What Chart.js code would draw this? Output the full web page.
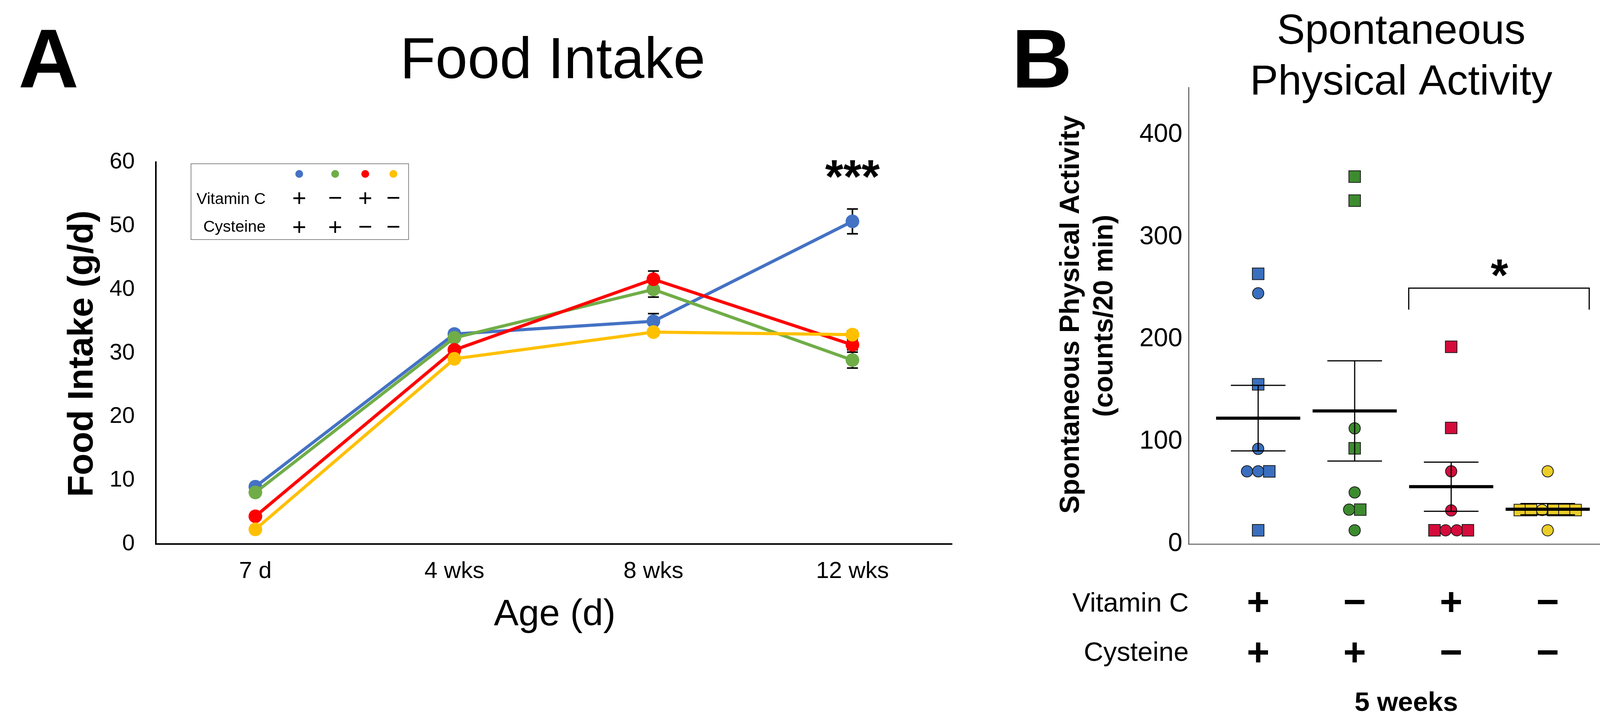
<!DOCTYPE html>
<html><head><meta charset="utf-8">
<script src="https://cdn.jsdelivr.net/npm/chart.js@4.4.1/dist/chart.umd.min.js"></script>
<style>
html,body{margin:0;padding:0;background:#fff;width:4163px;height:1850px;overflow:hidden}
#wrapA{position:absolute;left:0;top:0;width:2560px;height:1850px}
#wrapB{position:absolute;left:2560px;top:0;width:1603px;height:1850px}
canvas{display:block}
</style></head><body>
<div id="wrapA"><canvas id="a" width="2560" height="1850" style="width:2560px;height:1850px"></canvas></div>
<div id="wrapB"><canvas id="b" width="1603" height="1850" style="width:1603px;height:1850px"></canvas></div>
<script>
// ---------- Panel A data ----------
const ageLabels = ['7 d', '4 wks', '8 wks', '12 wks'];
const foodVcCys  = [9.0, 33.0, 35.0, 50.7];   // blue  Vit C + / Cys +
const foodCys    = [8.1, 32.4, 40.0, 28.9];   // green Vit C - / Cys +
const foodVc     = [4.35, 30.5, 41.6, 31.3];  // red   Vit C + / Cys -
const foodNone   = [2.3, 29.1, 33.3, 32.9];   // yellow Vit C - / Cys -
const errVcCys   = [0.5, 0.6, 1.2, 1.95];
const errCys     = [0.4, 0.5, 1.2, 1.25];
const errVc      = [0.4, 0.6, 1.3, 0.8];
const errNone    = [0.3, 0.5, 0.5, 0.6];
const vitCSigns  = ['+', '\u2212', '+', '\u2212'];
const cysSigns   = ['+', '+', '\u2212', '\u2212'];

// ---------- Panel B data ----------
const groupPos   = [1, 2, 3, 4];
const spaVcCys   = [264, 245, 156, 93, 71, 71, 71, 13.4];
const shpVcCys   = ['rect','circle','rect','circle','circle','circle','rect','rect'];
const spaCys     = [359, 335.5, 113, 93.5, 50.4, 33.6, 33.6, 13.4];
const shpCys     = ['rect','rect','circle','rect','circle','circle','rect','circle'];
const spaVc      = [192.7, 113.4, 71, 32.8, 13.4, 13.4, 13.4, 13.4];
const shpVc      = ['rect','rect','circle','circle','rect','circle','circle','rect'];
const spaNone    = [71, 33.2, 33.2, 33.2, 33.2, 33.2, 33.2, 13.4];
const shpNone    = ['circle','rect','rect','circle','rect','rect','rect','circle'];
const spaMean    = [123, 130, 56, 34];
const spaSem     = [32, 49, 24, 5.5];

const FF = "'Liberation Sans', Arial, Helvetica, sans-serif";
Chart.defaults.font.family = FF;
Chart.defaults.color = '#000';

const colA = ['#4472C4', '#70AD47', '#FF0000', '#FFC000'];
const colB = ['#3a6fbf', '#3d8b2f', '#d40c3c', '#ebcd28'];

// ---------- Panel A ----------
const foodSeries = [foodVcCys, foodCys, foodVc, foodNone];
const foodErr = [errVcCys, errCys, errVc, errNone];

const pluginA = {
  id: 'pa',
  beforeDatasetsDraw(chart) {
    const {ctx, scales: {x, y}} = chart;
    ctx.save();
    ctx.strokeStyle = '#000';
    ctx.lineWidth = 4;
    foodSeries.forEach((ser, si) => {
      ser.forEach((v, i) => {
        const e = foodErr[si][i];
        const px = x.getPixelForValue(i);
        const t = y.getPixelForValue(v + e), b = y.getPixelForValue(v - e);
        ctx.beginPath();
        ctx.moveTo(px, t); ctx.lineTo(px, b);
        ctx.moveTo(px - 14, t); ctx.lineTo(px + 14, t);
        ctx.moveTo(px - 14, b); ctx.lineTo(px + 14, b);
        ctx.stroke();
      });
    });
    ctx.restore();
  },
  afterDraw(chart) {
    const {ctx, scales: {x}} = chart;
    ctx.save();
    ctx.fillStyle = '#000';
    ctx.textBaseline = 'alphabetic';
    // Panel letter
    ctx.textAlign = 'left';
    ctx.font = `bold 214px ${FF}`;
    ctx.fillText('A', 47, 224);
    // Title
    ctx.textAlign = 'center';
    ctx.font = `148px ${FF}`;
    ctx.fillText('Food Intake', 1415, 200);
    // X title
    ctx.font = `95px ${FF}`;
    ctx.fillText('Age (d)', 1420, 1600);
    // Y title
    ctx.save();
    ctx.translate(237, 905);
    ctx.rotate(-Math.PI / 2);
    ctx.font = `bold 91px ${FF}`;
    ctx.fillText('Food Intake (g/d)', 0, 0);
    ctx.restore();
    // Significance
    ctx.font = `bold 120px ${FF}`;
    ctx.fillText('***', x.getPixelForValue(3), 493);
    // Legend table
    ctx.strokeStyle = '#8a8a8a';
    ctx.lineWidth = 2;
    ctx.strokeRect(489, 419, 557, 194);
    const cols = [766, 858, 935, 1007];
    cols.forEach((cx, i) => {
      ctx.fillStyle = colA[i];
      ctx.beginPath(); ctx.arc(cx, 445, 10, 0, Math.PI * 2); ctx.fill();
    });
    ctx.fillStyle = '#000';
    ctx.textAlign = 'right';
    ctx.font = `41px ${FF}`;
    ctx.fillText('Vitamin C', 680, 522);
    ctx.fillText('Cysteine', 680, 593);
    ctx.textAlign = 'center';
    ctx.font = `62px ${FF}`;
    cols.forEach((cx, i) => {
      ctx.fillText(vitCSigns[i], cx, 527);
      ctx.fillText(cysSigns[i], cx, 601);
    });
    ctx.restore();
  }
};

new Chart(document.getElementById('a'), {
  type: 'line',
  data: {
    labels: ageLabels,
    datasets: foodSeries.map((ser, i) => ({
      data: ser,
      borderColor: colA[i],
      backgroundColor: colA[i],
      pointBackgroundColor: colA[i],
      pointBorderWidth: 0,
      pointRadius: 17.5,
      borderWidth: 8,
      tension: 0,
      fill: false,
      order: 4 - i
    }))
  },
  options: {
    responsive: false,
    devicePixelRatio: 1,
    animation: false,
    events: [],
    layout: {padding: {top: 415, right: 123, bottom: 0, left: 0}},
    plugins: {legend: {display: false}, tooltip: {enabled: false}, title: {display: false}},
    scales: {
      x: {
        type: 'category',
        offset: true,
        grid: {display: false, drawTicks: false},
        border: {display: true, color: '#000', width: 4},
        ticks: {font: {size: 60}, color: '#000', padding: 34, maxRotation: 0},
        afterFit: s => { s.height = 458; }
      },
      y: {
        min: 0, max: 60,
        grid: {display: false, drawTicks: false},
        border: {display: true, color: '#000', width: 4},
        ticks: {stepSize: 10, font: {size: 58}, color: '#000', padding: 54},
        afterFit: s => { s.width = 399; }
      }
    }
  },
  plugins: [pluginA]
});

// ---------- Panel B ----------
const spaGroups = [spaVcCys, spaCys, spaVc, spaNone];
const spaShapes = [shpVcCys, shpCys, shpVc, shpNone];
const JIT = 0.1155;
function jitter(vals) {
  const off = new Array(vals.length).fill(0);
  let i = 0;
  while (i < vals.length) {
    let j = i;
    while (j + 1 < vals.length && vals[j + 1] === vals[i]) j++;
    const n = j - i + 1;
    for (let k = 0; k < n; k++) off[i + k] = (k - (n - 1) / 2) * JIT;
    i = j + 1;
  }
  return off;
}

const pluginB = {
  id: 'pb',
  afterDatasetsDraw(chart) {
    const {ctx, scales: {x, y}} = chart;
    ctx.save();
    ctx.strokeStyle = '#000';
    groupPos.forEach((g, i) => {
      const m = spaMean[i], e = spaSem[i];
      const t = y.getPixelForValue(m + e), b = y.getPixelForValue(m - e), my = y.getPixelForValue(m);
      const cx = x.getPixelForValue(g);
      const half = x.getPixelForValue(g + 0.436) - cx;
      const cap = x.getPixelForValue(g + 0.283) - cx;
      ctx.lineWidth = 3;
      ctx.beginPath();
      ctx.moveTo(cx, t); ctx.lineTo(cx, b);
      ctx.moveTo(cx - cap, t); ctx.lineTo(cx + cap, t);
      ctx.moveTo(cx - cap, b); ctx.lineTo(cx + cap, b);
      ctx.stroke();
      ctx.lineWidth = 8;
      ctx.beginPath();
      ctx.moveTo(cx - half, my); ctx.lineTo(cx + half, my);
      ctx.stroke();
    });
    ctx.restore();
  },
  afterDraw(chart) {
    const {ctx, scales: {x, y}} = chart;
    ctx.save();
    ctx.fillStyle = '#000';
    ctx.strokeStyle = '#000';
    ctx.textBaseline = 'alphabetic';
    ctx.textAlign = 'left';
    ctx.font = `bold 214px ${FF}`;
    ctx.fillText('B', 30, 224);
    ctx.textAlign = 'center';
    ctx.font = `108px ${FF}`;
    ctx.fillText('Spontaneous', 1027, 112);
    ctx.fillText('Physical Activity', 1027, 242);
    // Y title
    ctx.save();
    ctx.translate(202, 805);
    ctx.rotate(-Math.PI / 2);
    ctx.font = `bold 70px ${FF}`;
    ctx.fillText('Spontaneous Physical Activity', 0, 0);
    ctx.restore();
    ctx.save();
    ctx.translate(288, 808);
    ctx.rotate(-Math.PI / 2);
    ctx.font = `bold 70px ${FF}`;
    ctx.fillText('(counts/20 min)', 0, 0);
    ctx.restore();
    // significance bracket
    const x1 = x.getPixelForValue(2.56), x2 = x.getPixelForValue(4.43);
    const yt = y.getPixelForValue(250), yl = y.getPixelForValue(229);
    ctx.lineWidth = 3;
    ctx.beginPath();
    ctx.moveTo(x1, yl); ctx.lineTo(x1, yt); ctx.lineTo(x2, yt); ctx.lineTo(x2, yl);
    ctx.stroke();
    ctx.font = `bold 115px ${FF}`;
    ctx.fillText('*', x.getPixelForValue(3.5), 743);
    // bottom table
    ctx.textAlign = 'right';
    ctx.font = `69px ${FF}`;
    ctx.fillText('Vitamin C', 483, 1565);
    ctx.fillText('Cysteine', 483, 1691);
    ctx.textAlign = 'center';
    ctx.font = `bold 100px ${FF}`;
    groupPos.forEach((g, i) => {
      const cx = x.getPixelForValue(g);
      ctx.fillText(vitCSigns[i], cx, 1574);
      ctx.fillText(cysSigns[i], cx, 1703);
    });
    ctx.font = `bold 69px ${FF}`;
    ctx.fillText('5 weeks', 1040, 1819);
    ctx.restore();
  }
};

new Chart(document.getElementById('b'), {
  type: 'scatter',
  data: {
    datasets: spaGroups.map((vals, gi) => {
      const off = jitter(vals);
      return {
        data: vals.map((v, k) => ({x: groupPos[gi] + off[k], y: v})),
        pointStyle: spaShapes[gi],
        pointRadius: spaShapes[gi].map(s => s === 'rect' ? 21 : 14.5),
        pointBackgroundColor: colB[gi],
        pointBorderColor: '#1a1a1a',
        pointBorderWidth: 2,
        showLine: false
      };
    })
  },
  options: {
    responsive: false,
    devicePixelRatio: 1,
    animation: false,
    events: [],
    layout: {padding: {top: 224, right: 21, bottom: 0, left: 0}},
    plugins: {legend: {display: false}, tooltip: {enabled: false}},
    scales: {
      x: {
        type: 'linear', min: 0.28, max: 4.72,
        grid: {display: false, drawTicks: false},
        border: {display: true, color: '#777', width: 3},
        ticks: {display: false},
        afterFit: s => { s.height = 458; }
      },
      y: {
        min: 0, max: 446,
        grid: {display: false, drawTicks: false},
        border: {display: true, color: '#555', width: 2.5},
        ticks: {stepSize: 100, font: {size: 66}, color: '#000', padding: 16},
        afterBuildTicks: s => { s.ticks = s.ticks.filter(t => t.value % 100 === 0); },
        afterFit: s => { s.width = 483; }
      }
    }
  },
  plugins: [pluginB]
});
</script>
</body></html>
